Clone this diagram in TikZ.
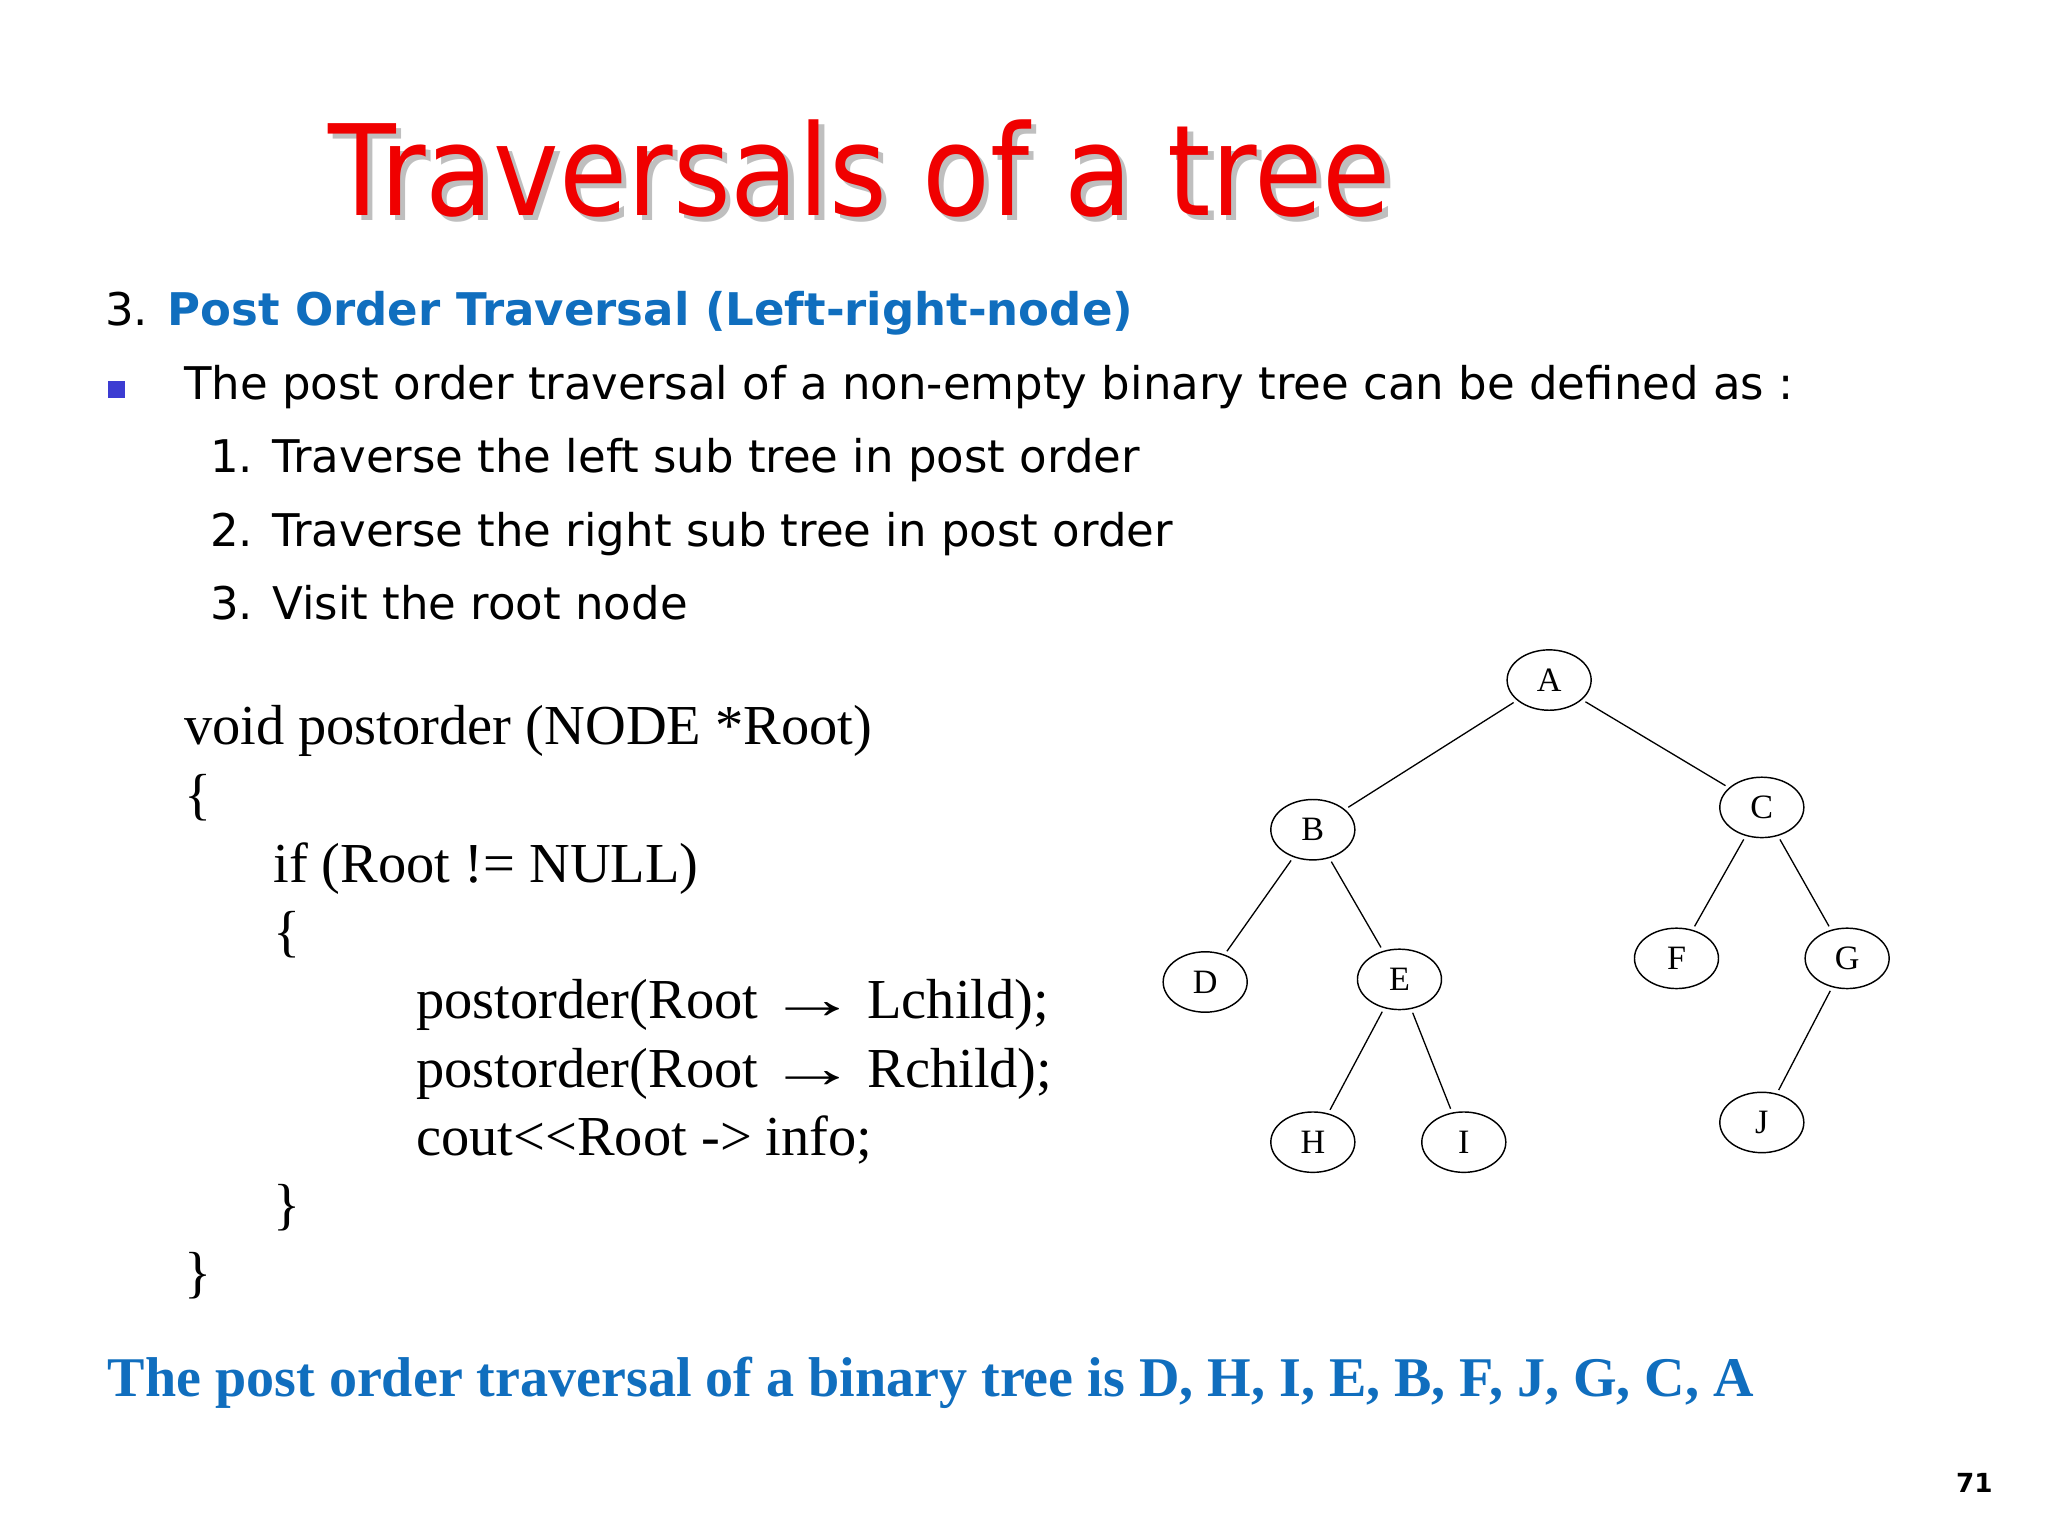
\documentclass[tikz,border=0pt]{standalone}
\usepackage{fontspec}
\setmainfont{DejaVu Sans}
\newfontfamily\tms{Liberation Serif}
\usetikzlibrary{shapes.geometric}
\definecolor{tred}{RGB}{240,0,0}
\definecolor{tblue}{RGB}{16,110,190}
\definecolor{bblue}{RGB}{60,60,210}
\newcommand{\myarr}{\,\scalebox{1.6}[1]{→}\,}
\begin{document}
\begin{tikzpicture}[x=1pt,y=-1pt,
  tn/.style={ellipse,draw,line width=1.1pt,minimum width=64pt,minimum height=46pt,inner sep=0pt,font=\tms\fontsize{26}{26}\selectfont},
  te/.style={line width=1pt,shorten <=3pt,shorten >=3pt},
  body/.style={anchor=base west,inner sep=0pt,font=\fontsize{34.3}{40}\selectfont},
  code/.style={anchor=base west,inner sep=0pt,font=\tms\fontsize{43}{46}\selectfont}]
\useasboundingbox (0,0) rectangle (1560,1170);
\node[anchor=base west,inner sep=0pt,text=gray!50,xscale=0.88,transform shape,font=\fontsize{96}{100}\selectfont] at (254,168) {Traversals of a tree};
\node[anchor=base west,inner sep=0pt,text=tred,xscale=0.88,transform shape,font=\fontsize{96}{100}\selectfont] (title) at (250,164) {Traversals of a tree};
\node[body] (h) at (80,248) {3. \textcolor{tblue}{\textbf{Post Order Traversal (Left-right-node)}}};
\fill[bblue] (82,290) rectangle (95,303);
\node[body] (p) at (140,304) {The post order traversal of a non-empty binary tree can be defined as :};
\node[body] (s1) at (160,360) {1. Traverse the left sub tree in post order};
\node[body] (s2) at (160,416) {2. Traverse the right sub tree in post order};
\node[body] (s3) at (160,472) {3. Visit the root node};
\node[code] at (140,567) {void postorder (NODE *Root)};
\node[code] at (140,620) {\{};
\node[code] at (208,672) {if (Root != NULL)};
\node[code] at (208,724) {\{};
\node[code] at (317,776) {postorder(Root\myarr Lchild);};
\node[code] at (317,828) {postorder(Root\myarr Rchild);};
\node[code] at (317,880) {cout<<Root -> info;};
\node[code] at (208,932) {\}};
\node[code] at (140,984) {\}};
\node[tn] (A) at (1180,518) {A};
\node[tn] (B) at (1000,632) {B};
\node[tn] (C) at (1342,615) {C};
\node[tn] (D) at (918,748) {D};
\node[tn] (E) at (1066,746) {E};
\node[tn] (F) at (1277,730) {F};
\node[tn] (G) at (1407,730) {G};
\node[tn] (H) at (1000,870) {H};
\node[tn] (I) at (1115,870) {I};
\node[tn] (J) at (1342,855) {J};
\draw[te] (A)--(B); \draw[te] (A)--(C);
\draw[te] (B)--(D); \draw[te] (B)--(E);
\draw[te] (E)--(H); \draw[te] (E)--(I);
\draw[te] (C)--(F); \draw[te] (C)--(G);
\draw[te] (G)--(J);
\node[anchor=base west,inner sep=0pt,text=tblue,font=\tms\bfseries\fontsize{42.7}{46}\selectfont] (res) at (82,1064) {The post order traversal of a binary tree is D, H, I, E, B, F, J, G, C, A};
\node[anchor=base east,inner sep=0pt,font=\bfseries\fontsize{20}{22}\selectfont] (pg) at (1518,1137) {71};
\end{tikzpicture}
\end{document}
